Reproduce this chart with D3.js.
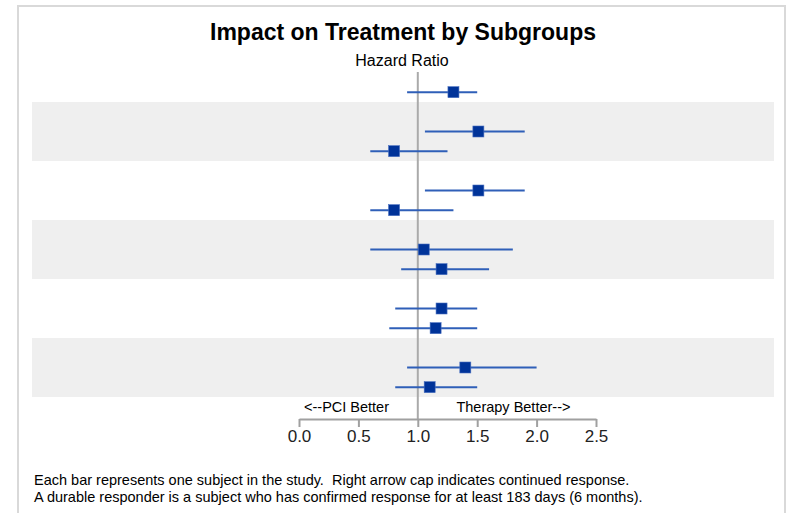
<!DOCTYPE html>
<html>
<head>
<meta charset="utf-8">
<script src="https://cdn.jsdelivr.net/npm/d3@7"></script>
<style>
  body { margin: 0; background: #fff; }
  svg { display: block; font-family: "Liberation Sans", Arial, sans-serif; }
</style>
</head>
<body>
<div id="chart"></div>
<script>

// row slot (18 slots, 6 groups of 3) for each subject bar
var rowSlot  = [2, 4, 5, 7, 8, 10, 11, 13, 14, 16, 17];
// hazard ratio and its interval
var estimate = [1.30, 1.51, 0.80, 1.51, 0.80, 1.05, 1.20, 1.20, 1.15, 1.40, 1.10];
var lower    = [0.91, 1.06, 0.60, 1.06, 0.60, 0.60, 0.86, 0.81, 0.76, 0.91, 0.81];
var upper    = [1.50, 1.90, 1.25, 1.90, 1.30, 1.80, 1.60, 1.50, 1.50, 2.00, 1.50];
// first slot of each shaded group
var bandStart = [3, 9, 15];
var tickValues = [0.0, 0.5, 1.0, 1.5, 2.0, 2.5];
var footnotes = [
  "Each bar represents one subject in the study.  Right arrow cap indicates continued response.",
  "A durable responder is a subject who has confirmed response for at least 183 days (6 months)."
];

var width = 788, height = 513;

var svg = d3.select('#chart')
            .append('svg')
            .attr('width', width)
            .attr('height', height);

// outer frame
svg.append('rect')
   .attr('x', 18).attr('y', 6)
   .attr('width', 767).attr('height', 520)
   .attr('fill', 'none')
   .attr('stroke', '#d9d9d9')
   .attr('stroke-width', 2);

var x = d3.scaleLinear().domain([0, 2.5]).range([299, 596]);
var y = d3.scaleBand().domain(d3.range(18)).range([43, 397]);

// shaded groups
svg.append('g')
   .selectAll('rect')
   .data(bandStart)
   .enter()
   .append('rect')
   .attr('x', 32)
   .attr('width', 742)
   .attr('y', function(d) { return y(d); })
   .attr('height', y.bandwidth() * 3)
   .attr('fill', '#efefef');

// title
svg.append('text')
   .attr('x', 403).attr('y', 40)
   .attr('text-anchor', 'middle')
   .style('font-size', '23px')
   .style('font-weight', 'bold')
   .text('Impact on Treatment by Subgroups');

svg.append('text')
   .attr('x', 402).attr('y', 66)
   .attr('text-anchor', 'middle')
   .style('font-size', '16px')
   .text('Hazard Ratio');

var axisY = 419;

// reference line at 1
svg.append('line')
   .attr('x1', x(1)).attr('x2', x(1))
   .attr('y1', 72).attr('y2', axisY)
   .attr('stroke', '#aaaaaa')
   .attr('stroke-width', 2);

var rows = rowSlot.map(function(s, i) {
  return { slot: s, est: estimate[i], lo: lower[i], hi: upper[i] };
});

var g = svg.append('g');

g.selectAll('line.ci')
 .data(rows)
 .enter()
 .append('line')
 .attr('class', 'ci')
 .attr('x1', function(d) { return x(d.lo); })
 .attr('x2', function(d) { return x(d.hi); })
 .attr('y1', function(d) { return y(d.slot) + y.bandwidth() / 2; })
 .attr('y2', function(d) { return y(d.slot) + y.bandwidth() / 2; })
 .attr('stroke', '#2f5fb8')
 .attr('stroke-width', 2);

g.selectAll('rect.est')
 .data(rows)
 .enter()
 .append('rect')
 .attr('class', 'est')
 .attr('x', function(d) { return x(d.est) - 5.5; })
 .attr('y', function(d) { return y(d.slot) + y.bandwidth() / 2 - 5.5; })
 .attr('width', 11).attr('height', 11)
 .attr('fill', '#003399')
 .attr('stroke', '#4a70c0')
 .attr('stroke-width', 0.6);

// direction labels
svg.append('text')
   .attr('x', x(0.4)).attr('y', 412)
   .attr('text-anchor', 'middle')
   .style('font-size', '14.5px')
   .text('<--PCI Better');

svg.append('text')
   .attr('x', x(1.805)).attr('y', 412)
   .attr('text-anchor', 'middle')
   .style('font-size', '14.5px')
   .text('Therapy Better-->');

// x axis
var axis = svg.append('g')
   .attr('transform', 'translate(0,' + axisY + ')')
   .call(d3.axisBottom(x)
           .tickValues(tickValues)
           .tickFormat(d3.format('.1f'))
           .tickSize(8)
           .tickSizeOuter(0));

axis.select('.domain').attr('stroke', '#a0a0a0').attr('stroke-width', 2);
axis.selectAll('.tick line').attr('stroke', '#a0a0a0').attr('stroke-width', 2);
axis.selectAll('.tick text')
    .attr('fill', '#222')
    .attr('y', 11)
    .style('font-size', '17px')
    .style('font-family', '"Liberation Sans", Arial, sans-serif');

// footnotes
svg.append('g')
   .selectAll('text')
   .data(footnotes)
   .enter()
   .append('text')
   .attr('x', 34)
   .attr('y', function(d, i) { return 485 + i * 17; })
   .attr('xml:space', 'preserve')
   .style('white-space', 'pre')
   .style('font-size', '14.5px')
   .text(function(d) { return d; });

</script>
</body>
</html>
